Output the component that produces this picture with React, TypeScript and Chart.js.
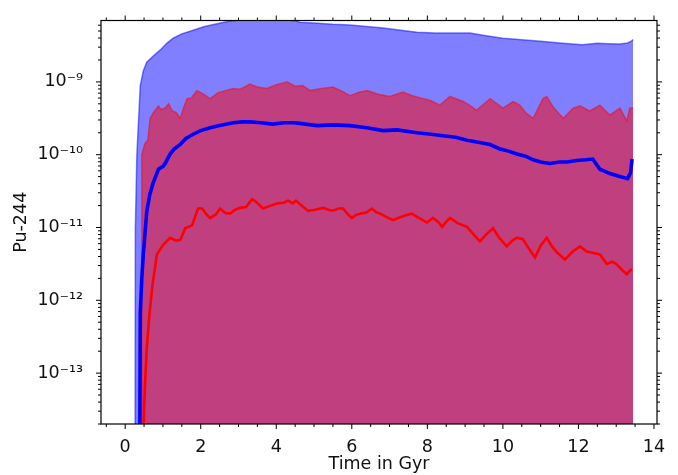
import React, { useEffect, useRef } from 'react';
import { Chart, registerables } from 'chart.js';

Chart.register(...registerables);

// Upper envelope of the blue (all events) band
const blueUpperTime = [0.26, 0.27, 0.31, 0.40, 0.48, 0.57, 0.75, 0.93, 1.1, 1.27, 1.5, 1.8, 2.1, 2.43, 2.78, 3.1, 3.5, 4.0, 4.5, 4.63, 5.0, 5.5, 5.95, 6.4, 6.83, 7.3, 7.72, 8.2, 8.6, 9.13, 9.47, 10.0, 10.5, 11.0, 11.5, 12.1, 12.5, 12.8, 13.1, 13.3, 13.4, 13.45];
const blueUpperValue = [1e-15, 1.0e-11, 1.0e-10, 8.9e-10, 1.41e-9, 1.86e-9, 2.29e-9, 2.75e-9, 3.39e-9, 3.98e-9, 4.57e-9, 5.13e-9, 5.75e-9, 6.31e-9, 6.84e-9, 7.08e-9, 7.24e-9, 7.24e-9, 6.92e-9, 6.61e-9, 6.46e-9, 6.17e-9, 6.03e-9, 5.75e-9, 5.5e-9, 5.13e-9, 4.79e-9, 4.68e-9, 4.68e-9, 4.68e-9, 4.37e-9, 3.98e-9, 3.8e-9, 3.63e-9, 3.43e-9, 3.24e-9, 3.39e-9, 3.35e-9, 3.31e-9, 3.43e-9, 3.63e-9, 3.8e-9];

// Upper envelope of the red band
const redUpperTime = [0.43, 0.44, 0.52, 0.60, 0.66, 0.75, 0.88, 0.95, 1.06, 1.15, 1.25, 1.35, 1.46, 1.55, 1.64, 1.75, 1.9, 2.05, 2.25, 2.45, 2.65, 2.86, 3.05, 3.3, 3.5, 3.75, 4.0, 4.29, 4.5, 4.7, 4.9, 5.2, 5.5, 5.75, 5.95, 6.2, 6.4, 6.7, 7.0, 7.35, 7.6, 7.9, 8.1, 8.33, 8.6, 8.95, 9.15, 9.3, 9.5, 9.66, 9.85, 10.0, 10.27, 10.45, 10.6, 10.8, 11.06, 11.16, 11.35, 11.6, 11.86, 12.04, 12.3, 12.57, 12.83, 13.1, 13.28, 13.36, 13.45];
const redUpperValue = [1e-15, 1.0e-10, 1.41e-10, 1.58e-10, 3.16e-10, 3.8e-10, 4.68e-10, 4.17e-10, 4.37e-10, 5.01e-10, 3.98e-10, 3.8e-10, 3.16e-10, 4.47e-10, 5.89e-10, 6.03e-10, 7.59e-10, 6.92e-10, 5.89e-10, 7.08e-10, 7.59e-10, 8.13e-10, 7.94e-10, 9.33e-10, 8.51e-10, 8.13e-10, 9.12e-10, 1.0e-9, 8.71e-10, 8.91e-10, 7.59e-10, 8.13e-10, 8.51e-10, 7.41e-10, 6.46e-10, 7.24e-10, 7.59e-10, 6.76e-10, 6.31e-10, 7.24e-10, 6.46e-10, 5.89e-10, 5.5e-10, 4.79e-10, 6.31e-10, 5.37e-10, 4.68e-10, 4.07e-10, 5.01e-10, 5.89e-10, 5.01e-10, 4.37e-10, 5.37e-10, 4.79e-10, 3.8e-10, 3.16e-10, 5.89e-10, 6.31e-10, 4.37e-10, 3.16e-10, 4.37e-10, 4.68e-10, 3.98e-10, 4.79e-10, 3.51e-10, 4.37e-10, 2.92e-10, 4.37e-10, 4.37e-10];

// Blue median curve
const blueMedianTime = [0.38, 0.40, 0.44, 0.48, 0.57, 0.65, 0.74, 0.88, 1.0, 1.06, 1.19, 1.3, 1.46, 1.6, 1.8, 2.0, 2.25, 2.5, 2.86, 3.1, 3.3, 3.6, 3.9, 4.2, 4.45, 4.63, 5.08, 5.5, 5.95, 6.4, 6.83, 7.2, 7.72, 8.1, 8.42, 8.75, 9.05, 9.35, 9.66, 9.92, 10.15, 10.37, 10.6, 10.8, 11.0, 11.24, 11.5, 11.7, 11.95, 12.2, 12.38, 12.5, 12.57, 12.83, 13.1, 13.3, 13.38, 13.42];
const blueMedianValue = [1e-15, 6.76e-13, 2.0e-12, 4.27e-12, 1.62e-11, 2.82e-11, 4.07e-11, 6.31e-11, 6.92e-11, 7.59e-11, 1.02e-10, 1.2e-10, 1.38e-10, 1.66e-10, 1.91e-10, 2.14e-10, 2.34e-10, 2.51e-10, 2.75e-10, 2.82e-10, 2.82e-10, 2.75e-10, 2.63e-10, 2.75e-10, 2.75e-10, 2.69e-10, 2.51e-10, 2.57e-10, 2.51e-10, 2.34e-10, 2.14e-10, 2.19e-10, 2.0e-10, 1.91e-10, 1.82e-10, 1.74e-10, 1.58e-10, 1.48e-10, 1.38e-10, 1.2e-10, 1.12e-10, 1.02e-10, 9.55e-11, 8.51e-11, 7.94e-11, 7.59e-11, 7.94e-11, 7.94e-11, 8.32e-11, 8.51e-11, 8.71e-11, 7.08e-11, 6.31e-11, 5.5e-11, 5.01e-11, 4.68e-11, 5.62e-11, 8.71e-11];

// Red median curve
const redMedianTime = [0.45, 0.50, 0.53, 0.57, 0.64, 0.72, 0.84, 1.0, 1.19, 1.35, 1.46, 1.59, 1.77, 1.93, 2.04, 2.15, 2.25, 2.4, 2.51, 2.65, 2.78, 2.9, 3.04, 3.2, 3.36, 3.45, 3.57, 3.65, 3.8, 4.02, 4.2, 4.31, 4.44, 4.52, 4.7, 4.84, 5.0, 5.24, 5.4, 5.5, 5.65, 5.77, 5.9, 6.0, 6.1, 6.22, 6.4, 6.53, 6.65, 6.75, 6.9, 7.09, 7.28, 7.45, 7.59, 7.75, 7.99, 8.15, 8.3, 8.39, 8.5, 8.6, 8.8, 9.05, 9.2, 9.39, 9.55, 9.74, 9.9, 10.1, 10.25, 10.37, 10.53, 10.7, 10.85, 11.0, 11.16, 11.3, 11.43, 11.64, 11.85, 12.04, 12.22, 12.4, 12.57, 12.75, 12.9, 13.0, 13.15, 13.28, 13.35, 13.41];
const redMedianValue = [1e-15, 3.16e-14, 7.94e-14, 2.14e-13, 6.17e-13, 1.58e-12, 4.27e-12, 5.75e-12, 7.24e-12, 6.61e-12, 6.76e-12, 9.77e-12, 1.07e-11, 1.82e-11, 1.82e-11, 1.51e-11, 1.35e-11, 1.51e-11, 1.82e-11, 1.58e-11, 1.55e-11, 1.74e-11, 1.86e-11, 1.91e-11, 2.45e-11, 2.29e-11, 2.0e-11, 1.82e-11, 1.95e-11, 2.14e-11, 2.19e-11, 2.34e-11, 2.14e-11, 2.34e-11, 1.95e-11, 1.7e-11, 1.74e-11, 1.86e-11, 1.74e-11, 1.7e-11, 1.82e-11, 1.82e-11, 1.51e-11, 1.35e-11, 1.48e-11, 1.55e-11, 1.62e-11, 1.82e-11, 1.62e-11, 1.55e-11, 1.41e-11, 1.26e-11, 1.38e-11, 1.48e-11, 1.55e-11, 1.38e-11, 1.17e-11, 1.35e-11, 1.17e-11, 1.02e-11, 1.2e-11, 1.35e-11, 1.15e-11, 1.02e-11, 8.32e-12, 6.46e-12, 7.94e-12, 9.77e-12, 7.24e-12, 5.5e-12, 6.61e-12, 7.24e-12, 6.92e-12, 5.01e-12, 3.89e-12, 5.62e-12, 7.24e-12, 5.5e-12, 4.57e-12, 3.63e-12, 4.68e-12, 5.5e-12, 4.68e-12, 4.47e-12, 4.27e-12, 3.16e-12, 3.39e-12, 3.16e-12, 2.63e-12, 2.29e-12, 2.51e-12, 2.69e-12];

// Axes
const xMin = -0.64;
const xMax = 14.08;
const yMin = 2.0e-14;
const yMax = 6.97e-9;
const xMajorTicks = [0, 2, 4, 6, 8, 10, 12, 14];
const yTickValues = [1e-13, 1e-12, 1e-11, 1e-10, 1e-9];
const yTickLabels = ['10⁻¹³', '10⁻¹²', '10⁻¹¹', '10⁻¹⁰', '10⁻⁹'];
const xTitle = 'Time in Gyr';
const yTitle = 'Pu-244';

const FONT = 'DejaVu Sans';

const toPoints = (t: number[], v: number[]) => t.map((x, i) => ({ x, y: v[i] }));

const frameTicks = {
  id: 'frameTicks',
  afterDraw(chart: any) {
    const { ctx, chartArea: a, scales } = chart;
    const xs = scales.x;
    const ys = scales.y;
    ctx.save();
    ctx.strokeStyle = '#000';
    ctx.lineWidth = 1.2;
    ctx.strokeRect(a.left, a.top, a.right - a.left, a.bottom - a.top);
    ctx.lineWidth = 1;
    const major = 5;
    const minor = 3;
    ctx.beginPath();
    // x ticks (top and bottom, outward)
    for (let k = Math.ceil(xMin / 0.5); k * 0.5 <= xMax; k++) {
      const v = k * 0.5;
      const isMajor = xMajorTicks.some((m) => Math.abs(m - v) < 1e-9);
      const len = isMajor ? major : minor;
      const px = xs.getPixelForValue(v);
      ctx.moveTo(px, a.bottom);
      ctx.lineTo(px, a.bottom + len);
      ctx.moveTo(px, a.top);
      ctx.lineTo(px, a.top - len);
    }
    // y ticks (left and right, outward)
    for (let e = -15; e <= -8; e++) {
      for (let m = 1; m <= 9; m++) {
        const v = m * Math.pow(10, e);
        if (v < yMin || v > yMax) continue;
        const len = m === 1 ? major : minor;
        const py = ys.getPixelForValue(v);
        ctx.moveTo(a.left, py);
        ctx.lineTo(a.left - len, py);
        ctx.moveTo(a.right, py);
        ctx.lineTo(a.right + len, py);
      }
    }
    ctx.stroke();
    ctx.restore();
  },
};

export default function App() {
  const ref = useRef<HTMLCanvasElement>(null);

  useEffect(() => {
    if (!ref.current) return;
    const chart = new Chart(ref.current, {
      type: 'line',
      data: {
        datasets: [
          {
            label: 'red median',
            data: toPoints(redMedianTime, redMedianValue),
            borderColor: '#ff0000',
            borderWidth: 2.6,
            pointRadius: 0,
            fill: false,
            order: 0,
            clip: 0,
          },
          {
            label: 'blue median',
            data: toPoints(blueMedianTime, blueMedianValue),
            borderColor: '#0000ff',
            borderWidth: 3.6,
            pointRadius: 0,
            fill: false,
            order: 1,
            clip: 0,
          },
          {
            label: 'red band',
            data: toPoints(redUpperTime, redUpperValue),
            borderColor: 'rgba(255,0,0,0.5)',
            backgroundColor: 'rgba(255,0,0,0.5)',
            borderWidth: 1.5,
            pointRadius: 0,
            fill: 'start',
            order: 2,
            clip: 0,
          },
          {
            label: 'blue band',
            data: toPoints(blueUpperTime, blueUpperValue),
            borderColor: 'rgba(0,0,255,0.5)',
            backgroundColor: 'rgba(0,0,255,0.5)',
            borderWidth: 1.5,
            pointRadius: 0,
            fill: 'start',
            order: 3,
            clip: 0,
          },
        ] as any,
      },
      options: {
        animation: false,
        responsive: false,
        devicePixelRatio: 1,
        layout: { padding: { top: 10, right: 21, left: 0, bottom: 0 } },
        plugins: {
          legend: { display: false },
          tooltip: { enabled: false },
        },
        elements: { line: { tension: 0 } },
        scales: {
          x: {
            type: 'linear',
            min: xMin,
            max: xMax,
            grid: { display: false },
            border: { display: false },
            ticks: {
              stepSize: 2,
              includeBounds: false,
              autoSkip: false,
              maxRotation: 0,
              padding: 5,
              color: '#111',
              font: { family: FONT, size: 17.5 },
            },
            title: {
              display: true,
              text: xTitle,
              color: '#111',
              font: { family: FONT, size: 17.5 },
              padding: { top: 0, bottom: 0 },
            },
            afterFit: (s: any) => {
              s.height = 51;
            },
          },
          y: {
            type: 'logarithmic',
            min: yMin,
            max: yMax,
            grid: { display: false },
            border: { display: false },
            ticks: {
              autoSkip: false,
              padding: 10,
              color: '#111',
              font: { family: FONT, size: 17.5 },
              callback: (value: any) => {
                const v = Number(value);
                const i = yTickValues.findIndex(
                  (t) => Math.abs(Math.log10(v) - Math.log10(t)) < 1e-6
                );
                return i >= 0 ? yTickLabels[i] : '';
              },
            },
            title: {
              display: true,
              text: yTitle,
              color: '#111',
              font: { family: FONT, size: 17.5 },
              padding: { top: 11, bottom: 0 },
            },
            afterFit: (s: any) => {
              s.width = 101;
            },
          },
        },
      } as any,
      plugins: [frameTicks],
    });
    return () => chart.destroy();
  }, []);

  return (
    <div style={{ position: 'fixed', left: 0, top: 0, width: 678, height: 475, background: '#fff' }}>
      <canvas ref={ref} width={678} height={475} style={{ display: 'block' }} />
    </div>
  );
}
